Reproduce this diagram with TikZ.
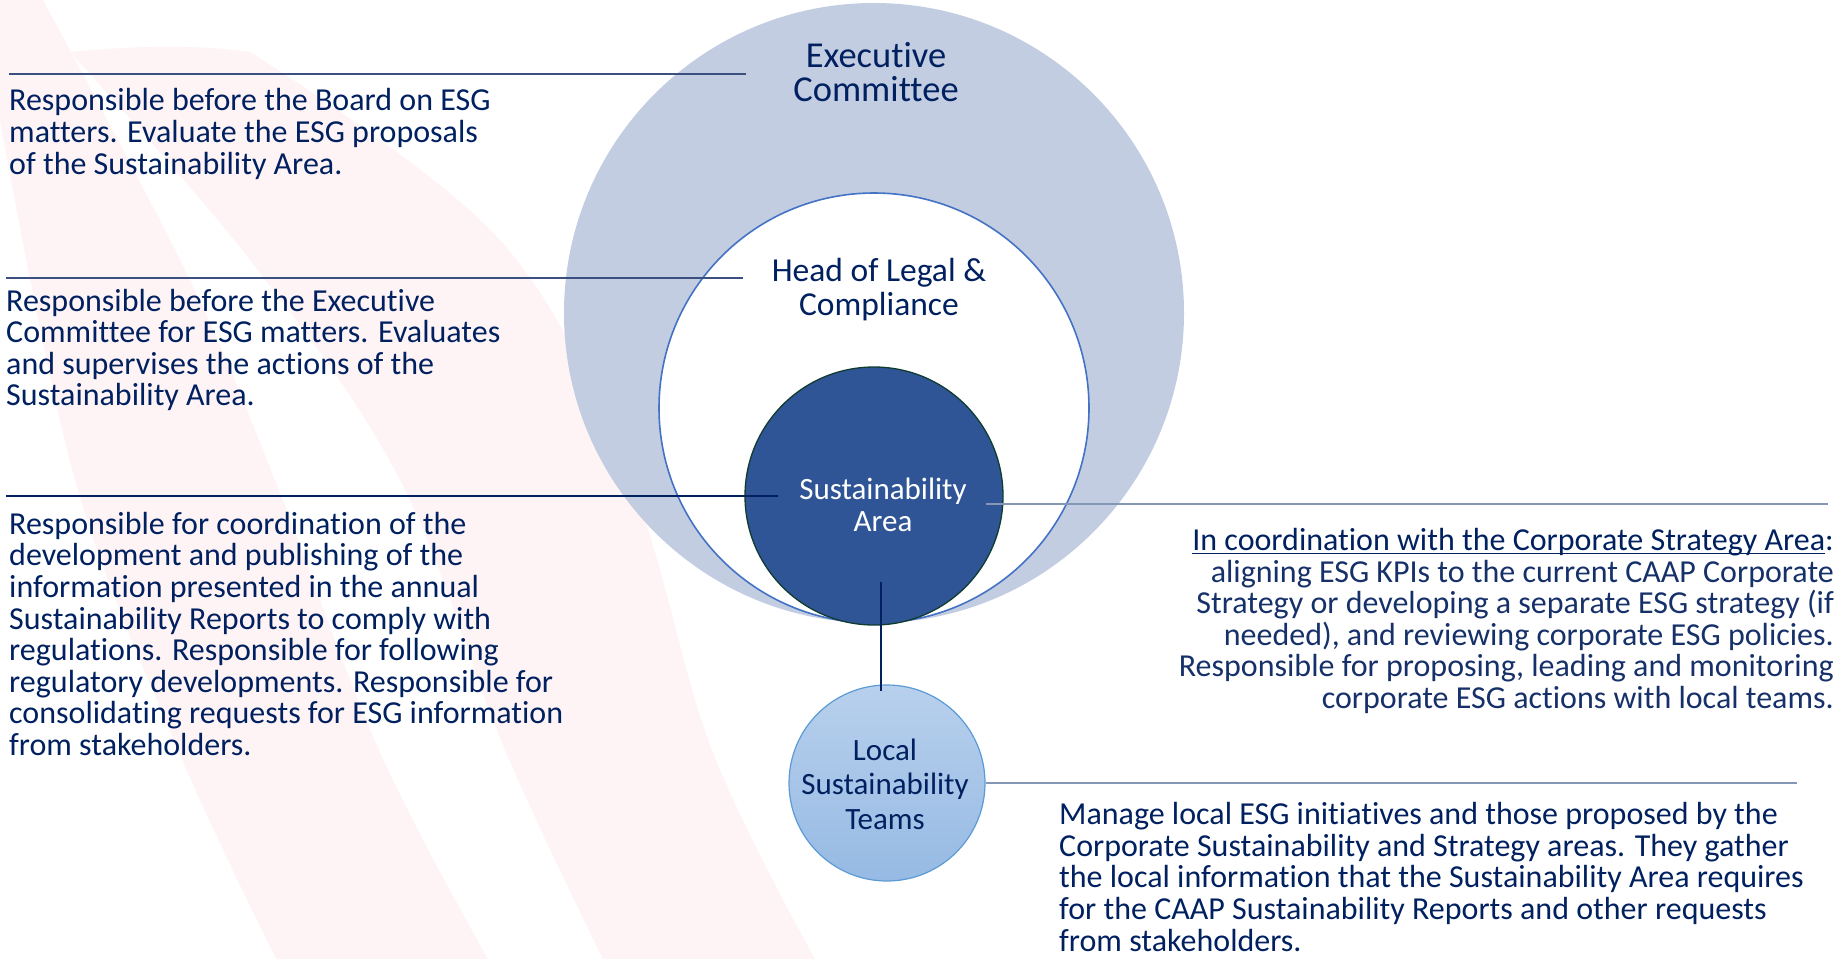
\documentclass[tikz,border=0pt]{standalone}
\usepackage{fontspec}
\setmainfont{Carlito}[Ligatures=NoCommon]
\definecolor{navy}{RGB}{0,32,96}
\definecolor{lightnavy}{RGB}{22,48,105}
\definecolor{ecfill}{RGB}{194,205,225}
\definecolor{headline}{RGB}{68,114,196}
\definecolor{safill}{RGB}{47,85,151}
\definecolor{saline}{RGB}{16,60,48}
\definecolor{ltop}{RGB}{184,208,236}
\definecolor{lbot}{RGB}{150,186,228}
\definecolor{lline}{RGB}{91,155,213}
\definecolor{rulel}{RGB}{60,80,128}
\definecolor{ruler}{RGB}{132,151,180}
\definecolor{bgpink}{RGB}{254,244,245}
\newcommand\ulline[1]{\setbox0\hbox{#1}\rlap{\rule[-3.5pt]{\wd0}{1.4pt}}\box0}
\tikzset{
  disc/.style={circle, inner sep=0pt},
  clabel/.style={align=center, text=navy, inner sep=0pt},
  desc/.style={text=navy, font=\fontsize{32}{31.6}\selectfont, inner sep=0pt},
  leader/.style={draw=rulel, line width=1.3pt},
  rleader/.style={draw=ruler, line width=1.6pt},
}
\begin{document}
\begin{tikzpicture}[x=1pt,y=-1pt]
\useasboundingbox (0,0) rectangle (1837,959);
% faint background swooshes
\fill[bgpink] plot[smooth, tension=0.6] coordinates {(0,120) (75,480) (178,750) (276,959)}
  -- plot[smooth, tension=0.6] coordinates {(488,959) (379,750) (275,480) (190,280) (43,0)}
  -- (0,0) -- cycle;
\fill[bgpink] plot[smooth, tension=0.6] coordinates {(603,959) (505,750) (400,480) (250,260) (70,52)}
  .. controls (140,45) and (200,45) .. (250,52)
  -- plot[smooth, tension=0.6] coordinates {(250,52) (500,240) (630,480) (712,750) (815,959)} -- cycle;
% circles
\node[disc, fill=ecfill, minimum size=620pt] (ec) at (874,313) {};
\node[disc, fill=white, draw=headline, line width=1.6pt, minimum size=430pt] (head) at (874,408) {};
\node[disc, fill=safill, draw=saline, line width=1.3pt, minimum size=258pt] (sa) at (874,496) {};
\node[disc, top color=ltop, bottom color=lbot, draw=lline, line width=1.2pt, minimum size=196pt] (lt) at (887,783) {};
% labels
\node[clabel, font=\fontsize{36.5}{34}\selectfont] (ecl) at (876,72) {Executive\\Committee};
\node[clabel, font=\fontsize{33.5}{34}\selectfont] (headl) at (879,290) {Head of Legal \&\\Compliance};
\node[clabel, font=\fontsize{31}{31.6}\selectfont, text=white] (sal) at (883,505) {Sustainability\\Area};
\node[clabel, font=\fontsize{31}{34.6}\selectfont] (ltl) at (885,784) {Local\\Sustainability\\Teams};
% connector
\coordinate (c1) at (881,582);
\coordinate (c2) at (881,691);
\draw[navy, line width=1.6pt] (c1) -- (c2);
% leader lines
\coordinate (a1) at (9,74);   \coordinate (b1) at (746,74);
\coordinate (a2) at (6,278);  \coordinate (b2) at (743,278);
\coordinate (a3) at (6,496);  \coordinate (b3) at (778,496);
\coordinate (a4) at (986,504); \coordinate (b4) at (1828,504);
\coordinate (a5) at (986,783); \coordinate (b5) at (1797,783);
\draw[leader] (a1) -- (b1);
\draw[leader] (a2) -- (b2);
\draw[leader, draw=navy] (a3) -- (b3);
\draw[rleader] (a4) -- (b4);
\draw[rleader] (a5) -- (b5);
% descriptions
\node[desc, anchor=west, align=left] (t1) at (9,134) {Responsible before the Board on ESG\\matters. Evaluate the ESG proposals\\of the Sustainability Area.};
\node[desc, anchor=west, align=left] (t2) at (6,350) {Responsible before the Executive\\Committee for ESG matters. Evaluates\\and supervises the actions of the\\Sustainability Area.};
\node[desc, anchor=west, align=left] (t3) at (9,634) {Responsible for coordination of the\\development and publishing of the\\information presented in the annual\\Sustainability Reports to comply with\\regulations. Responsible for following\\regulatory developments. Responsible for\\consolidating requests for ESG information\\from stakeholders.};
\node[desc, anchor=east, align=right] (t4) at (1834,621) {\ulline{In coordination with the Corporate Strategy Area}:\\\color{lightnavy}aligning ESG KPIs to the current CAAP Corporate\\\color{lightnavy}Strategy or developing a separate ESG strategy (if\\\color{lightnavy}needed), and reviewing corporate ESG policies.\\\color{lightnavy}Responsible for proposing, leading and monitoring\\\color{lightnavy}corporate ESG actions with local teams.};
\node[desc, anchor=west, align=left] (t5) at (1059,877) {Manage local ESG initiatives and those proposed by the\\Corporate Sustainability and Strategy areas. They gather\\the local information that the Sustainability Area requires\\for the CAAP Sustainability Reports and other requests\\from stakeholders.};
\end{tikzpicture}
\end{document}
